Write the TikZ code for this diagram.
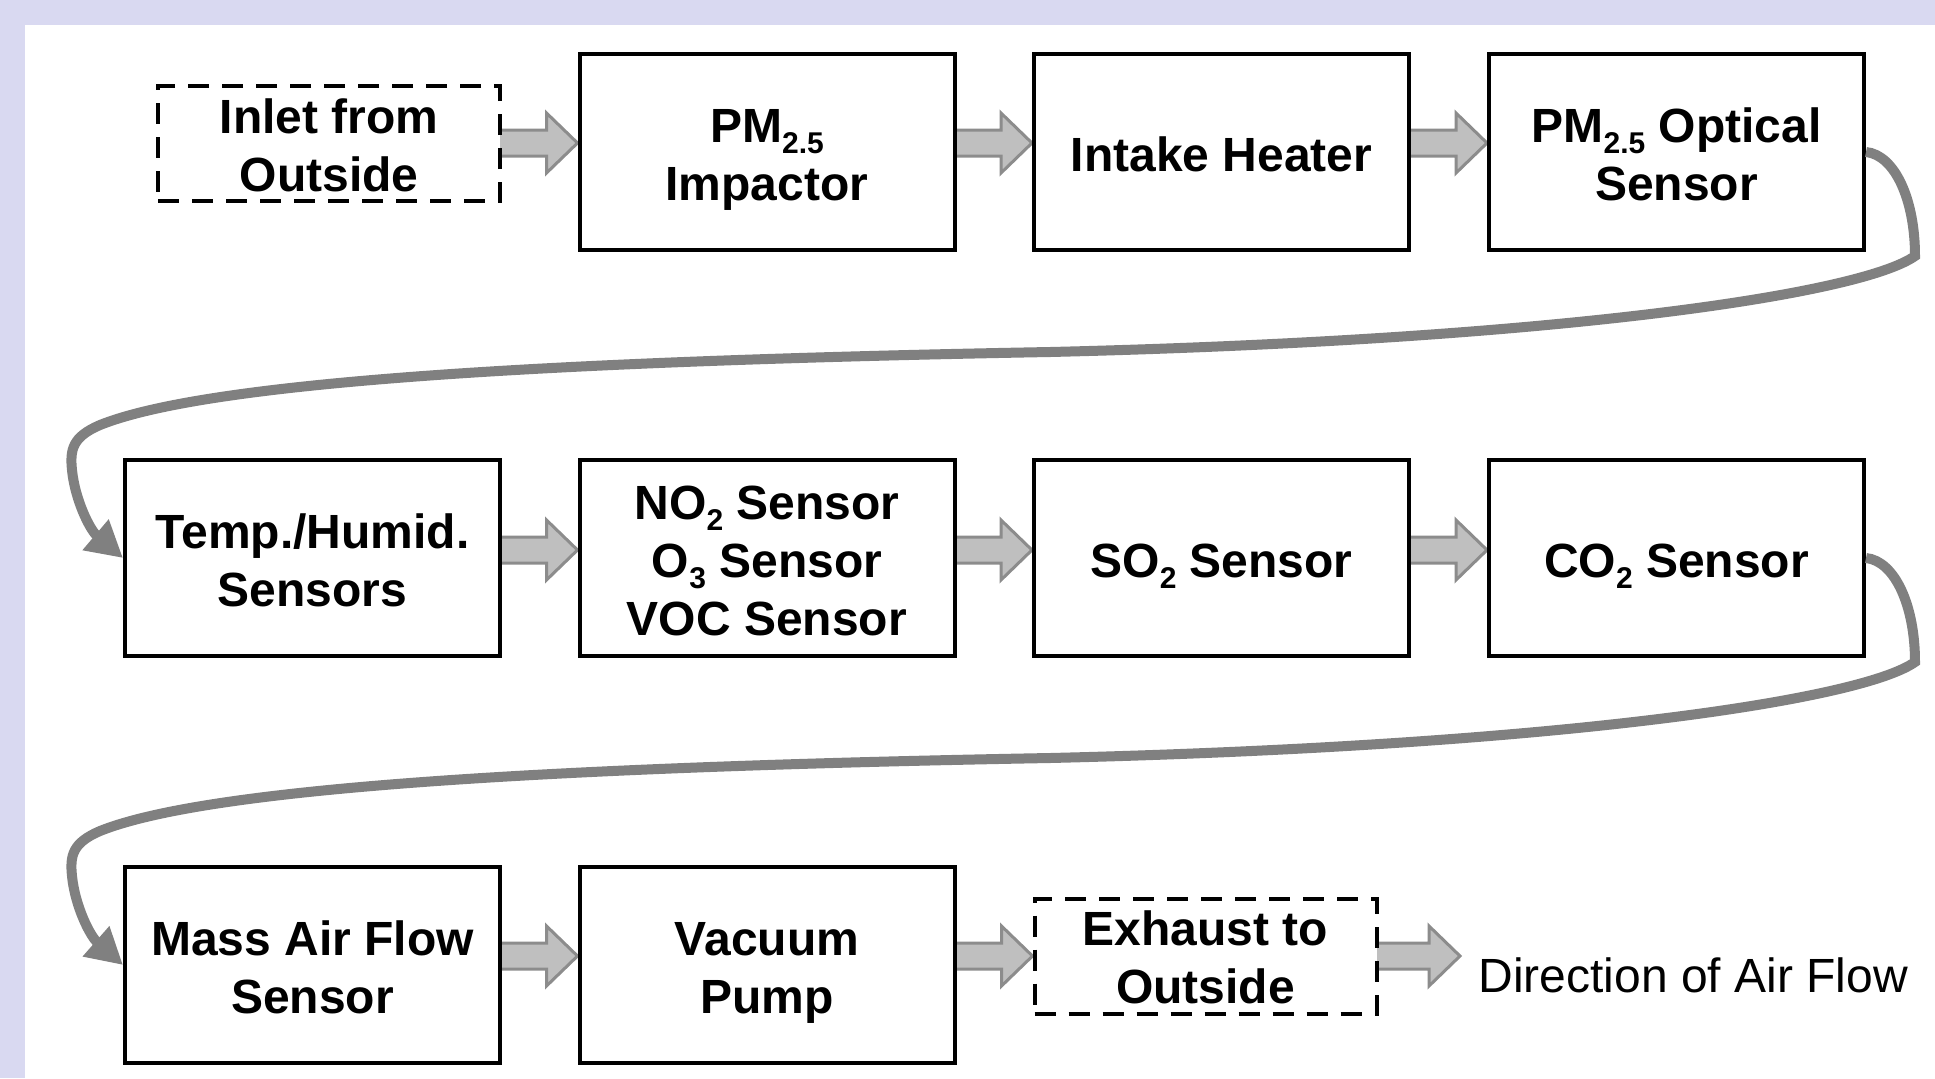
\documentclass[tikz,border=0pt]{standalone}
\usepackage{fontspec}
\setmainfont{Liberation Sans}
\usetikzlibrary{arrows.meta,calc}
\definecolor{lav}{RGB}{217,217,241}
\definecolor{barfill}{RGB}{191,191,191}
\definecolor{baredge}{RGB}{140,140,140}
\definecolor{curvegray}{RGB}{128,128,128}
\newcommand\msub[1]{\raisebox{-5.5pt}{\fontsize{15pt}{15pt}\selectfont #1}}
\newcommand\hs{\rule{0pt}{25.5pt}}
\newcommand\ds{\rule[-6.5pt]{0pt}{6.5pt}}
\newcommand\hsd{\rule{0pt}{19pt}}
\pgfdeclarelayer{bg}
\pgfsetlayers{bg,main}
\tikzset{
  box/.style={draw=black, line width=2pt, fill=white, minimum width=187.5pt, minimum height=98pt, inner sep=0pt, align=center, font=\fontsize{24pt}{29pt}\selectfont\bfseries},
  dbox/.style={box, dash pattern=on 10.5pt off 6.5pt, minimum width=171pt, minimum height=57.5pt},
  flowarr/.style={fill=barfill, draw=baredge, line width=1.5pt, line join=miter},
  bendline/.style={draw=curvegray, line width=5pt, -{Triangle[length=18pt,width=19pt]}},
  legtext/.style={anchor=west, inner sep=0pt, font=\fontsize{24pt}{29pt}\selectfont},
}
\newcommand\flow[3]{%
  \draw[flowarr] ($(#1 |- #3)+(-4,-13)$) -- ($(#2 |- #3)+(-31,-13)$) -- ($(#2 |- #3)+(-31,-30)$) -- (#2 |- #3) -- ($(#2 |- #3)+(-31,30)$) -- ($(#2 |- #3)+(-31,13)$) -- ($(#1 |- #3)+(-4,13)$) -- cycle;}
\begin{document}
\begin{tikzpicture}[x=0.5pt,y=-0.5pt]
\useasboundingbox (0,0) rectangle (1935,1078);
\begin{pgfonlayer}{bg}
\fill[lav] (0,0) rectangle (1935,1078);
\fill[white] (25,25) rectangle (1935,1078);
\end{pgfonlayer}

\node[dbox] (inlet) at (329,143.5) {\hsd Inlet from\\Outside};
\node[box] (imp) at (767,152) {\hs PM\msub{2.5}\\Impactor\ds};
\node[box] (heat) at (1221.5,152) {\hs Intake Heater\ds};
\node[box] (opt) at (1676.5,152) {\hs PM\msub{2.5} Optical\\Sensor\ds};
\node[box] (th) at (312.5,558) {\hs Temp./Humid.\\Sensors\ds};
\node[box] (gas) at (767,558) {\hs NO\msub{2} Sensor\\O\msub{3} Sensor\\VOC Sensor\ds};
\node[box] (so2) at (1221.5,558) {\hs SO\msub{2} Sensor\ds};
\node[box] (co2) at (1676.5,558) {\hs CO\msub{2} Sensor\ds};
\node[box] (maf) at (312.5,965) {\hs Mass Air Flow\\Sensor\ds};
\node[box] (vac) at (767,965) {\hs Vacuum\\Pump\ds};
\node[dbox] (exh) at (1205.5,956) {\hsd Exhaust to\\Outside};
\coordinate (legtip) at (1460,956);
\node[legtext] (leg) at (1478,975) {Direction of Air Flow};

\coordinate (r1) at (0,143);
\coordinate (r2) at (0,550);
\coordinate (r3) at (0,956);

\begin{pgfonlayer}{bg}
\flow{inlet.east}{imp.west}{r1}
\flow{imp.east}{heat.west}{r1}
\flow{heat.east}{opt.west}{r1}
\flow{th.east}{gas.west}{r2}
\flow{gas.east}{so2.west}{r2}
\flow{so2.east}{co2.west}{r2}
\flow{maf.east}{vac.west}{r3}
\flow{vac.east}{exh.west}{r3}
\flow{exh.east}{legtip}{r3}
\end{pgfonlayer}

\draw[bendline] (opt.east) .. controls (1895,155) and (1915,200) .. (1915,256)
  .. controls (1860,295) and (1550,340) .. (1050,352)
  .. controls (500,362) and (200,385) .. (100,425)
  .. controls (72,437) and (70,450) .. (72,470)
  .. controls (75,500) and (90,530) .. (th.west);
\draw[bendline] (co2.east) .. controls (1895,561) and (1915,606) .. (1915,662)
  .. controls (1860,701) and (1550,746) .. (1050,758)
  .. controls (500,768) and (200,791) .. (100,831)
  .. controls (72,843) and (70,856) .. (72,876)
  .. controls (75,906) and (90,936) .. (maf.west);
\end{tikzpicture}
\end{document}
